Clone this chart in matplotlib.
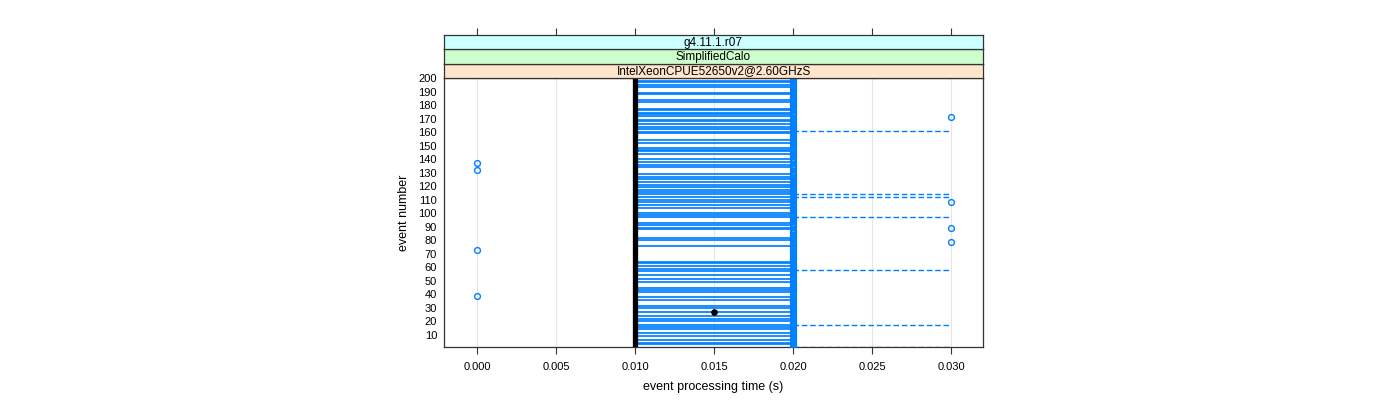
import matplotlib
matplotlib.use("Agg")
import matplotlib.pyplot as plt
import numpy as np

plt.rcParams['font.family'] = ['Liberation Sans', 'DejaVu Sans']

# strip labels (outer to inner)
strips = ["g4.11.1.r07", "SimplifiedCalo", "IntelXeonCPUE52650v2@2.60GHzS"]
strip_colors = ["#ccffff", "#ccffcc", "#ffe5cc"]

# event processing time per event: most events take 0.02 s
n_events = 200
events = list(range(1, n_events + 1))
zero_events = [39, 73, 132, 137]
slow_events = [79, 89, 108, 171]
times = []
for e in events:
    if e in zero_events:
        times.append(0.0)
    elif e in slow_events:
        times.append(0.03)
    else:
        times.append(0.02)

# events with a solid segment 0.01 -> 0.02
line_events = [3, 4, 6, 9, 11, 14, 16, 17, 20, 22, 24, 27, 30, 31, 36, 38, 42, 43,
               45, 49, 51, 54, 57, 59, 61, 63, 64, 76, 80, 82, 88, 89, 91, 93, 97,
               99, 100, 104, 106, 108, 110, 112, 114, 116, 117, 119, 121, 123, 125,
               127, 129, 134, 136, 138, 140, 144, 146, 147, 148, 152, 154, 159,
               160, 162, 164, 166, 168, 169, 172, 173, 174, 176, 177, 182, 184,
               188, 189, 193, 195, 197, 198, 200]
line_start, line_end = 0.01, 0.02
# events with a dashed segment 0.02 -> 0.03
dash_events = [1, 17, 58, 97, 112, 114, 161]
dash_start, dash_end = 0.02, 0.03

median_time = 0.01
mean_point = (0.015, 27)

xticks = [0.0, 0.005, 0.01, 0.015, 0.02, 0.025, 0.03]
yticks = list(range(10, 201, 10))

blue = "#0080ff"
W, H = 1400, 400
fig = plt.figure(figsize=(14, 4), dpi=100)

left, right = 444 / W, 983 / W
bottom, top = (H - 347) / H, (H - 78) / H
ax = fig.add_axes([left, bottom, right - left, top - bottom])

for x in xticks:
    ax.axvline(x, color="#e6e6e6", lw=0.8, zorder=0)

ax.hlines(line_events, line_start, line_end, color=blue, lw=1.25, zorder=2)
ax.hlines(dash_events, dash_start, dash_end, color=blue, lw=1.0,
          linestyles=(0, (4, 2)), zorder=2)
ax.axvline(median_time, color="black", lw=3.8, zorder=3)
ax.plot(times, events, "o", mfc="none", mec=blue, ms=4.2, mew=1.0, zorder=4)
ax.plot([mean_point[0]], [mean_point[1]], "o", color="black", ms=3.8, zorder=5)

ax.set_xlim(-0.0021, 0.032)
ax.set_ylim(1, 200)
ax.set_xticks(xticks)
ax.set_xticklabels(["%.3f" % x for x in xticks], fontsize=8)
ax.set_yticks(yticks)
ax.set_yticklabels([str(y) for y in yticks], fontsize=8)
ax.tick_params(axis="x", direction="out", length=5, width=0.8, color="#333333", pad=6)
ax.tick_params(axis="y", length=0, pad=5)
for s in ax.spines.values():
    s.set_color("#333333")
    s.set_linewidth(0.9)
ax.set_xlabel("event processing time (s)", fontsize=9, labelpad=6)
ax.set_ylabel("event number", fontsize=9, labelpad=6)

# strips above the panel
strip_h = 14.4 / H
for i, (lab, col) in enumerate(zip(reversed(strips), reversed(strip_colors))):
    sax = fig.add_axes([left, top + i * strip_h, right - left, strip_h])
    sax.set_facecolor(col)
    sax.set_xlim(ax.get_xlim())
    sax.set_ylim(0, 1)
    sax.set_yticks([])
    sax.text(0.5, 0.45, lab, transform=sax.transAxes, ha="center", va="center", fontsize=8.5)
    for s in sax.spines.values():
        s.set_color("#333333")
        s.set_linewidth(0.9)
    if i == len(strips) - 1:
        sax.set_xticks(xticks)
        sax.xaxis.tick_top()
        sax.tick_params(axis="x", direction="out", length=5, width=0.8,
                        color="#333333", labeltop=False)
    else:
        sax.set_xticks([])

fig.savefig("out.png", dpi=100)
